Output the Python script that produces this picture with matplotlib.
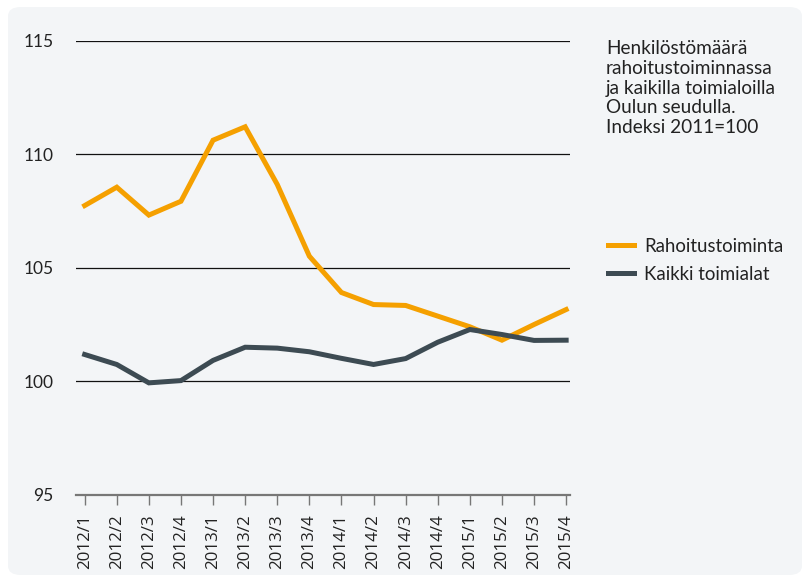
import matplotlib.pyplot as plt
from matplotlib.patches import FancyBboxPatch

# Quarterly index values (2011=100)
quarters = ["2012/1", "2012/2", "2012/3", "2012/4", "2013/1", "2013/2", "2013/3", "2013/4",
            "2014/1", "2014/2", "2014/3", "2014/4", "2015/1", "2015/2", "2015/3", "2015/4"]
rahoitus = [107.75, 108.56, 107.33, 107.94, 110.63, 111.22, 108.68, 105.52,
            103.92, 103.39, 103.35, 102.88, 102.41, 101.82, 102.51, 103.17]
kaikki = [101.19, 100.75, 99.94, 100.04, 100.93, 101.51, 101.47, 101.31,
          101.02, 100.75, 101.01, 101.73, 102.29, 102.07, 101.81, 101.82]

orange = "#f5a000"
dark = "#3d4b53"
panel = "#f3f5f7"

plt.rcParams['font.family'] = ['Lato', 'DejaVu Sans']

fig = plt.figure(figsize=(8.06, 5.76), dpi=100)
fig.patch.set_facecolor("white")

# rounded light background panel
bg = FancyBboxPatch((8/806, 1 - 575/576), 794/806, 568/576,
                    boxstyle="round,pad=0,rounding_size=0.016",
                    transform=fig.transFigure, facecolor=panel, edgecolor="none", zorder=-5)
fig.patches.append(bg)

ax = fig.add_axes([76/806, 81/576, 494/806, 454/576])
ax.set_facecolor("none")
ax.set_zorder(2)

x = list(range(len(quarters)))
ax.plot(x, rahoitus, color=orange, lw=3.6, solid_joinstyle="miter", label="Rahoitustoiminta", zorder=3)
ax.plot(x, kaikki, color=dark, lw=3.6, solid_joinstyle="miter", label="Kaikki toimialat", zorder=3)

ax.set_ylim(95, 115)
ax.set_xlim(-0.27, 15.12)
ax.set_yticks([95, 100, 105, 110, 115])
ax.set_yticklabels(["95", "100", "105", "110", "115"])
for yv in [100, 105, 110, 115]:
    ax.axhline(yv, color="#111111", lw=0.9, zorder=1)

ax.set_xticks(x)
ax.set_xticklabels(quarters, rotation=90, fontsize=12.2, family=["Open Sans", "DejaVu Sans"],
                   color="#222222")
ax.tick_params(axis="y", length=0, pad=16, labelsize=12.5, labelcolor="#222222")
ax.tick_params(axis="x", length=7, width=1, color="#777777", pad=7)

for s in ["top", "right", "left"]:
    ax.spines[s].set_visible(False)
ax.spines["bottom"].set_color("#777777")
ax.spines["bottom"].set_linewidth(1.6)

fig.text(606/806, 1 - 40/576,
         "Henkilöstömäärä\nrahoitustoiminnassa\nja kaikilla toimialoilla\nOulun seudulla.\nIndeksi 2011=100",
         fontsize=13.7, color="#222222", va="top", ha="left", linespacing=1.2)

fig.legend(loc="upper left", bbox_to_anchor=(591/806, 1 - 221/576), frameon=False,
           fontsize=13.4, handlelength=1.4, handletextpad=0.55, labelspacing=0.6,
           labelcolor="#222222")

fig.savefig("out.png", dpi=100, facecolor="white")
